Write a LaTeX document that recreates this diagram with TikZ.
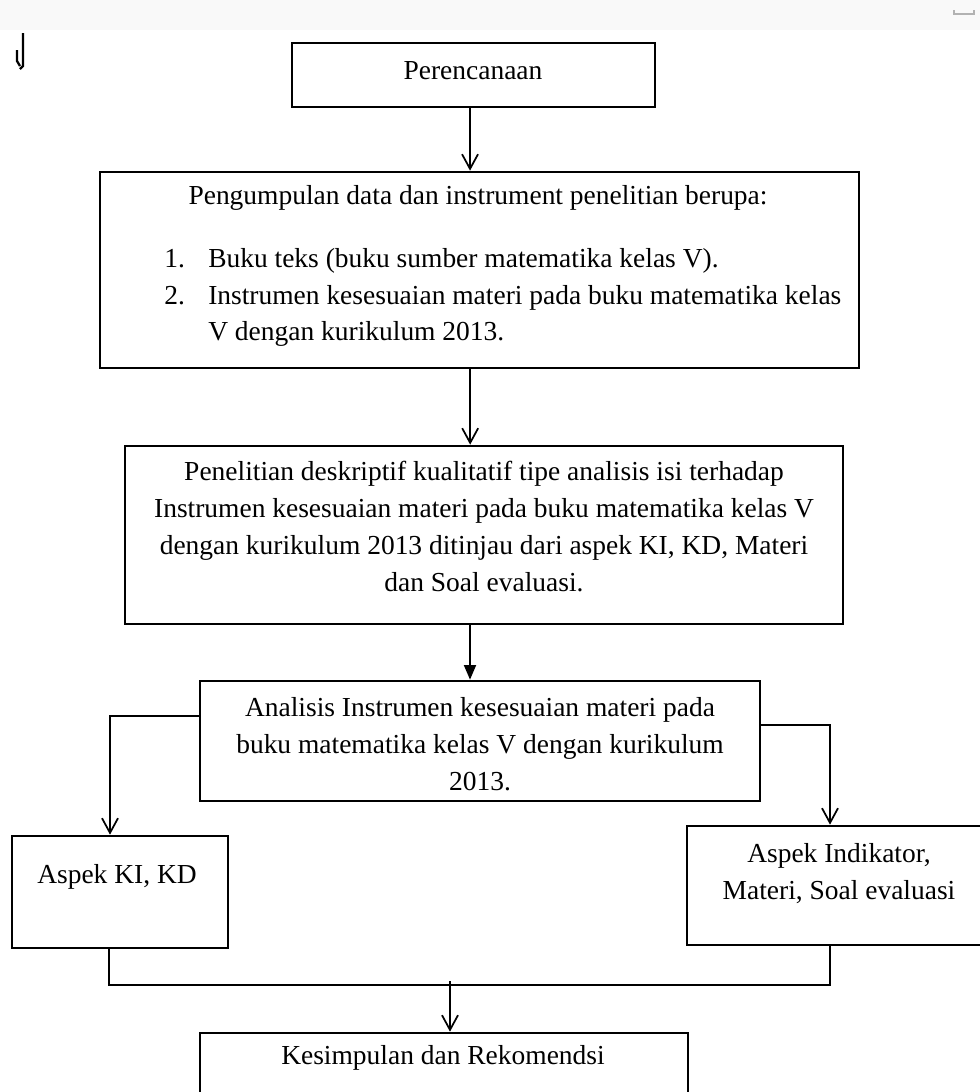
\documentclass[tikz,border=0pt]{standalone}
\usepackage{fontspec}
\setmainfont{Liberation Serif}
\usetikzlibrary{arrows.meta}

\begin{document}
\begin{tikzpicture}[x=0.75pt,y=0.75pt,yscale=-1,xscale=1,
  kotak/.style={draw,line width=2pt,inner sep=0pt},
  teks/.style={inner sep=0.75pt,align=center,font=\fontsize{20.6}{27.75}\selectfont},
  panah/.style={line width=1.4pt,-{Straight Barb[length=11pt,width=12pt,line width=1.3pt]}},
  panahpenuh/.style={line width=1.4pt,-{Triangle[length=11pt,width=9pt]}},
  garis/.style={line width=1.4pt}]
\useasboundingbox (0,0) rectangle (980,1092);
\clip (0,0) rectangle (980,1092);
%uncomment if require: \path (0,1092); %page band at top
\fill [gray!5] (0,0) rectangle (980,30);

%Shape: stray marks
\draw [line width=1.7pt] (23,33) -- (23,66) -- (20,69) ;
\draw [line width=1.7pt] (17,50) -- (17,61) -- (20,66) ;
\draw [gray!60,line width=1pt] (954,10) -- (954,14) -- (974,14) -- (974,10) ;

%Shape: Rectangle [id:plan]
\node [kotak,minimum width=272.25pt,minimum height=48pt] (plan) at (473.5,75) {};
%Shape: Rectangle [id:data]
\node [kotak,minimum width=569.25pt,minimum height=147pt] (data) at (479.5,270) {};
%Shape: Rectangle [id:desk]
\node [kotak,minimum width=538.5pt,minimum height=133.5pt] (desk) at (484,535) {};
%Shape: Rectangle [id:anal]
\node [kotak,minimum width=420pt,minimum height=90pt] (anal) at (480,741) {};
%Shape: Rectangle [id:kikd]
\node [kotak,minimum width=162pt,minimum height=84pt] (kikd) at (120,892) {};
%Shape: Rectangle [id:indi]
\node [kotak,minimum width=228pt,minimum height=89.25pt] (indi) at (839,885.5) {};
%Shape: Rectangle [id:simp]
\node [kotak,minimum width=366pt,minimum height=48pt] (simp) at (444,1065) {};

%Straight Lines
\draw [panah] ([xshift=-2.6pt]plan.south) -- ([xshift=-2.6pt]plan.south |- data.north) ;
\draw [panah] ([xshift=-7pt]data.south) -- ([xshift=-7pt]data.south |- desk.north) ;
\draw [panahpenuh] ([xshift=-10.5pt]desk.south) -- ([xshift=-10.5pt]desk.south |- anal.north) ;
\draw [panah] ([yshift=-18.75pt]anal.west) -| ([xshift=-7.5pt]kikd.north) ;
\draw [panah] ([yshift=-12pt]anal.east) -| ([xshift=-6.75pt]indi.north) ;
\coordinate (gabung) at (450,985) ;
\draw [garis] ([xshift=-8pt]kikd.south) |- (gabung) -| ([xshift=-6.75pt]indi.south) ;
\draw [panah] ([yshift=-3pt]gabung) -- (gabung |- simp.north) ;

% Text Node
\node [teks] (tplan) at (473,71) {Perencanaan};
% Text Node
\node [teks] (tdata) at (478,198) {Pengumpulan data dan instrument penelitian berupa:};
% Text Node
\node [teks,anchor=base west] (no1) at (163,267) {1.};
% Text Node
\node [teks,anchor=base west] (item1) at (207,267) {Buku teks (buku sumber matematika kelas V).};
% Text Node
\node [teks,anchor=base west] (no2) at (163,304) {2.};
% Text Node
\node [teks,anchor=base west] (item2) at (207,304) {Instrumen kesesuaian materi pada buku matematika kelas};
% Text Node
\node [teks,anchor=base west] (item2b) at (207,340) {V dengan kurikulum 2013.};
% Text Node
\node [teks] (tdesk) at (484,527) {Penelitian deskriptif kualitatif tipe analisis isi terhadap\\Instrumen kesesuaian materi pada buku matematika kelas V\\dengan kurikulum 2013 ditinjau dari aspek KI, KD, Materi\\dan Soal evaluasi.};
% Text Node
\node [teks] (tanal) at (480,744) {Analisis Instrumen kesesuaian materi pada\\buku matematika kelas V dengan kurikulum\\2013.};
% Text Node
\node [teks] (tkikd) at (117,877) {Aspek KI, KD};
% Text Node
\node [teks] (tindi) at (839,873.5) {Aspek Indikator,\\Materi, Soal evaluasi};
% Text Node
\node [teks] (tsimp) at (443,1058) {Kesimpulan dan Rekomendsi};

\end{tikzpicture}
\end{document}
